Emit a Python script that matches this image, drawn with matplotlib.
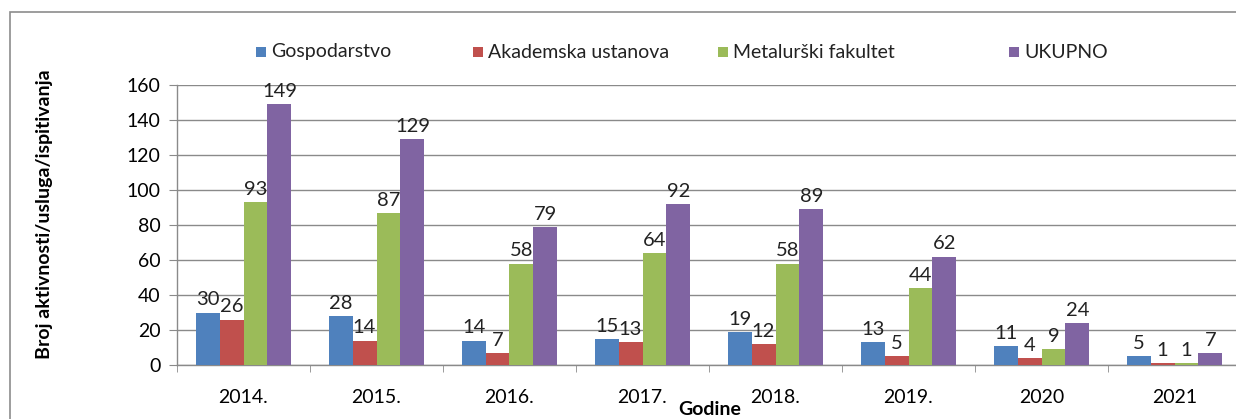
import matplotlib
matplotlib.use("Agg")
import matplotlib.pyplot as plt
from matplotlib.patches import Rectangle
import numpy as np

plt.rcParams.update({"font.family": ["Lato", "DejaVu Sans"], "font.size": 13.5})

years = ["2014.", "2015.", "2016.", "2017.", "2018.", "2019.", "2020", "2021"]
series_names = ["Gospodarstvo", "Akademska ustanova", "Metalurški fakultet", "UKUPNO"]
gospodarstvo = [30, 28, 14, 15, 19, 13, 11, 5]
akademska = [26, 14, 7, 13, 12, 5, 4, 1]
metalurski = [93, 87, 58, 64, 58, 44, 9, 1]
ukupno = [149, 129, 79, 92, 89, 62, 24, 7]
colors = ["#4F81BD", "#C0504D", "#9BBB59", "#8064A2"]

W, H = 1236, 419
fig = plt.figure(figsize=(W / 100, H / 100), dpi=100)
fig.patch.set_facecolor("white")

# chart frame (runs off the right and bottom edges)
fig.patches.append(Rectangle((10 / W, -0.1), 1.2, (H - 12) / H + 0.1, transform=fig.transFigure,
                             fill=False, edgecolor="#8c8c8c", linewidth=1.2))

ax = fig.add_axes([177 / W, (H - 365) / H, 1064 / W, 280 / H])
x = np.arange(len(years))
bw = 0.18
for i, (vals, c) in enumerate(zip([gospodarstvo, akademska, metalurski, ukupno], colors)):
    pos = x + (i - 1.5) * bw
    ax.bar(pos, vals, width=bw, color=c, zorder=3)
    for px, v in zip(pos, vals):
        ax.annotate(str(v), (px, v), xytext=(0, 3), textcoords="offset points",
                    ha="center", va="bottom", fontsize=14.5, color="#222222", zorder=4)

ax.set_xlim(-0.5, len(years) - 0.5)
ax.set_ylim(0, 160)
ax.set_yticks(np.arange(0, 161, 20))
ax.yaxis.grid(True, color="#8a8a8a", linewidth=1.0, zorder=0)
ax.set_xticks(x)
ax.set_xticklabels(years)
ax.set_xticks(np.arange(-0.5, len(years)), minor=True)
ax.tick_params(axis="x", which="major", length=0, pad=17, labelsize=14)
ax.tick_params(axis="x", which="minor", length=5, color="#8a8a8a")
ax.tick_params(axis="y", length=6, color="#8a8a8a", pad=6, labelsize=14)
for s in ["top", "right"]:
    ax.spines[s].set_visible(False)
for s in ["left", "bottom"]:
    ax.spines[s].set_color("#8a8a8a")
    ax.spines[s].set_linewidth(1.0)
ax.set_facecolor("white")

fig.text(710 / W, 1 - 409 / H, "Godine", ha="center", va="center", fontsize=14, fontweight="bold")
fig.text(45 / W, 1 - 214 / H, "Broj aktivnosti/usluga/ispitivanja", ha="center", va="center",
         rotation=90, fontsize=14, fontweight="bold")

# legend row across the top
leg_x = [256, 473, 718, 1009]
for name, c, lx in zip(series_names, colors, leg_x):
    fig.patches.append(Rectangle((lx / W, 1 - 57 / H), 10 / W, 10 / H, transform=fig.transFigure,
                                 facecolor=c, edgecolor="none"))
    fig.text((lx + 15) / W, 1 - 52 / H, name, ha="left", va="center", fontsize=14, color="#222222")

fig.savefig("out.png", dpi=100)
